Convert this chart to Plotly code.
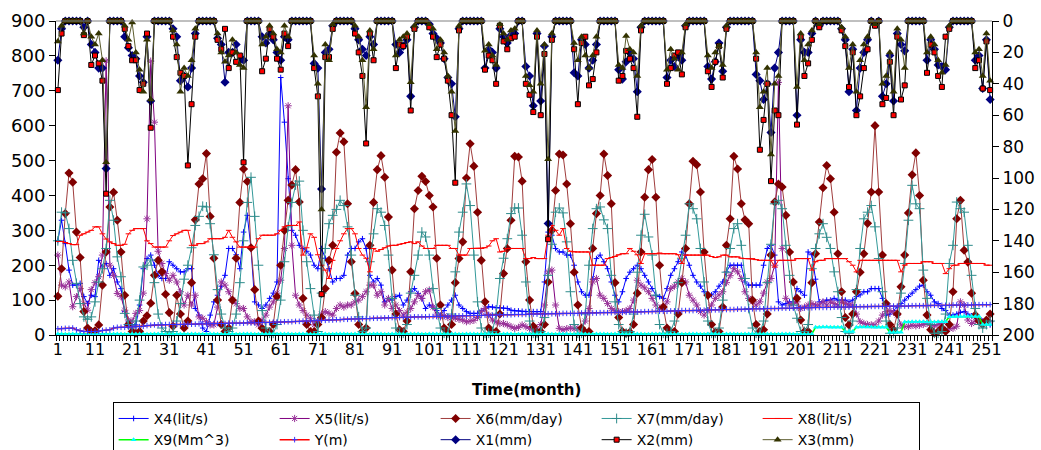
import plotly.graph_objects as go

months = list(range(1, 253))
x_tick_labels = [1, 11, 21, 31, 41, 51, 61, 71, 81, 91, 101, 111, 121, 131, 141, 151, 161, 171, 181, 191, 201, 211, 221, 231, 241, 251]

x4 = [271, 329, 262, 186, 143, 143, 148, 110, 90, 114, 110, 214,
      195, 205, 171, 190, 152, 133, 67, 38, 29, 29, 86, 190,
      219, 229, 200, 171, 162, 162, 210, 200, 190, 181, 181, 190,
      190, 76, 57, 20, 10, 57, 95, 114, 140, 171, 248, 248,
      230, 190, 295, 343, 248, 95, 86, 76, 86, 105, 120, 152,
      738, 610, 448, 300, 286, 257, 248, 240, 229, 200, 190, 248,
      220, 190, 152, 162, 162, 171, 229, 248, 248, 267, 276, 248,
      171, 152, 162, 143, 95, 105, 100, 110, 114, 86, 100, 124,
      133, 119, 105, 76, 86, 80, 70, 57, 70, 86, 100, 114,
      86, 76, 67, 62, 62, 62, 70, 76, 81, 80, 78, 78,
      77, 76, 71, 69, 69, 68, 67, 67, 67, 67, 67, 152,
      295, 286, 248, 238, 238, 229, 229, 200, 152, 124, 114, 114,
      160, 219, 229, 210, 190, 152, 114, 95, 124, 162, 180, 190,
      200, 190, 171, 152, 133, 114, 110, 105, 133, 171, 190, 210,
      238, 229, 200, 171, 152, 140, 124, 110, 115, 124, 140, 152,
      181, 200, 200, 200, 200, 152, 143, 143, 143, 143, 200, 248,
      257, 229, 95, 86, 90, 95, 95, 133, 124, 114, 238, 230,
      160, 95, 95, 100, 100, 105, 100, 100, 100, 95, 100, 110,
      115, 124, 124, 133, 133, 133, 105, 57, 60, 70, 80, 90,
      100, 110, 120, 130, 140, 143, 124, 114, 95, 90, 76, 70,
      57, 57, 60, 65, 67, 60, 55, 50, 48, 40, 38, 29]

x5 = [229, 143, 138, 152, 81, 110, 133, 90, 71, 130, 150, 167,
      229, 786, 200, 171, 119, 110, 71, 43, 40, 62, 70, 120,
      333, 785, 610, 240, 205, 176, 157, 171, 152, 124, 86, 114,
      86, 114, 52, 48, 38, 29, 29, 80, 152, 143, 124, 100,
      90, 76, 76, 52, 38, 38, 29, 43, 57, 80, 95, 120,
      157, 248, 657, 257, 114, 86, 70, 57, 48, 29, 40, 60,
      67, 62, 57, 76, 86, 80, 86, 86, 95, 100, 110, 124,
      143, 143, 114, 124, 86, 105, 76, 86, 70, 57, 65, 76,
      95, 114, 105, 124, 129, 80, 57, 52, 55, 50, 50, 48,
      45, 43, 38, 40, 42, 50, 67, 76, 57, 43, 38, 33,
      33, 29, 24, 19, 22, 29, 24, 19, 14, 20, 30, 86,
      181, 186, 86, 19, 15, 18, 20, 18, 20, 15, 40, 76,
      152, 162, 114, 105, 90, 76, 70, 67, 67, 70, 76, 100,
      157, 143, 135, 124, 105, 86, 76, 80, 95, 133, 140, 152,
      162, 152, 114, 100, 86, 67, 57, 70, 86, 105, 115, 124,
      150, 170, 190, 181, 162, 124, 105, 95, 86, 95, 120, 152,
      162, 200, 724, 248, 105, 86, 90, 95, 76, 80, 86, 90,
      86, 86, 95, 86, 95, 90, 86, 95, 90, 86, 86, 60,
      38, 33, 30, 29, 29, 40, 57, 67, 70, 65, 57, 29,
      24, 24, 28, 26, 28, 30, 33, 28, 26, 30, 33, 14,
      19, 19, 25, 95, 86, 43, 33, 40, 43, 29, 35, 38]

x6 = [111, 190, 348, 464, 438, 295, 222, 67, 20, 10, 12, 29,
      143, 238, 367, 409, 329, 238, 114, 30, 10, 5, 10, 40,
      55, 91, 171, 214, 181, 117, 64, 25, 114, 60, 20, 40,
      150, 330, 433, 448, 520, 340, 220, 100, 30, 10, 20, 100,
      220, 380, 476, 440, 250, 130, 40, 19, 8, 10, 30, 110,
      200, 300, 386, 430, 474, 381, 105, 30, 10, 10, 30, 50,
      133, 214, 257, 524, 579, 554, 376, 210, 119, 30, 10, 20,
      257, 380, 474, 514, 452, 338, 186, 60, 15, 10, 40, 181,
      362, 414, 455, 440, 400, 367, 220, 86, 20, 8, 30, 150,
      219, 267, 450, 548, 484, 352, 214, 95, 20, 8, 10, 60,
      176, 248, 329, 512, 510, 441, 210, 100, 25, 8, 10, 30,
      152, 300, 414, 519, 516, 433, 319, 180, 86, 20, 8, 10,
      248, 348, 400, 519, 457, 376, 150, 50, 10, 5, 8, 30,
      120, 238, 395, 474, 503, 395, 200, 80, 20, 8, 10, 60,
      150, 248, 376, 498, 488, 410, 238, 114, 30, 8, 10, 80,
      257, 333, 512, 476, 376, 330, 319, 100, 30, 10, 15, 60,
      229, 381, 433, 424, 343, 238, 152, 105, 43, 10, 10, 150,
      233, 324, 422, 486, 448, 352, 233, 124, 50, 29, 60, 124,
      180, 233, 320, 410, 600, 410, 229, 90, 30, 15, 60, 138,
      229, 350, 459, 522, 400, 157, 57, 15, 5, 10, 20, 10,
      30, 124, 333, 386, 243, 209, 120, 57, 40, 30, 43, 60]

x7 = [270, 352, 350, 305, 214, 148, 90, 52, 45, 52, 95, 152,
      190, 248, 386, 329, 224, 167, 62, 30, 20, 40, 100, 195,
      200, 215, 150, 60, 20, 10, 5, 10, 40, 90, 160, 200,
      250, 314, 340, 369, 367, 319, 230, 130, 60, 20, 10, 20,
      60, 150, 270, 380, 452, 340, 200, 70, 20, 5, 5, 30,
      100, 210, 310, 380, 430, 441, 300, 210, 133, 57, 10, 120,
      248, 319, 343, 360, 386, 371, 310, 229, 114, 52, 10, 20,
      210, 290, 362, 352, 314, 229, 105, 20, 5, 5, 30, 120,
      171, 229, 295, 281, 229, 133, 76, 20, 5, 5, 60, 181,
      295, 352, 433, 371, 229, 95, 20, 5, 5, 10, 60, 162,
      220, 276, 348, 364, 364, 286, 152, 40, 5, 5, 10, 50,
      171, 260, 352, 364, 350, 267, 124, 30, 5, 5, 60, 200,
      305, 362, 367, 330, 305, 171, 95, 30, 10, 5, 10, 60,
      180, 286, 346, 281, 229, 114, 30, 5, 5, 10, 40, 150,
      220, 286, 376, 362, 333, 248, 152, 40, 5, 5, 20, 100,
      180, 248, 305, 319, 257, 162, 76, 20, 5, 5, 40, 150,
      260, 376, 386, 362, 257, 171, 86, 48, 10, 10, 30, 190,
      248, 290, 319, 280, 248, 181, 124, 50, 10, 5, 40, 130,
      248, 333, 352, 371, 310, 219, 124, 40, 5, 5, 20, 120,
      205, 329, 429, 376, 362, 186, 105, 30, 5, 5, 10, 60,
      205, 257, 381, 362, 352, 257, 171, 76, 30, 20, 30, 40]

x8 = [268, 268, 265, 262, 259, 259, 286, 290, 295, 300, 310, 310,
      290, 275, 267, 262, 257, 257, 260, 290, 300, 305, 305, 305,
      270, 262, 252, 252, 252, 252, 270, 285, 290, 295, 300, 300,
      257, 257, 262, 262, 267, 276, 276, 276, 276, 280, 300, 280,
      267, 252, 252, 252, 252, 252, 276, 286, 286, 286, 286, 290,
      300, 310, 314, 314, 314, 324, 229, 250, 290, 280, 230, 200,
      186, 162, 214, 248, 270, 290, 305, 305, 290, 248, 229, 220,
      181, 248, 240, 245, 250, 255, 257, 257, 260, 262, 265, 267,
      262, 267, 255, 248, 248, 248, 257, 257, 257, 257, 248, 248,
      229, 229, 229, 248, 248, 248, 248, 250, 255, 270, 276, 238,
      240, 248, 248, 248, 248, 248, 219, 219, 222, 219, 219, 219,
      286, 314, 300, 286, 305, 248, 240, 238, 238, 238, 238, 238,
      200, 200, 200, 200, 219, 222, 225, 230, 233, 233, 248, 240,
      230, 205, 233, 233, 233, 233, 235, 233, 233, 233, 233, 230,
      205, 229, 229, 229, 229, 229, 229, 229, 225, 222, 224, 229,
      229, 224, 224, 224, 220, 219, 219, 219, 216, 214, 214, 214,
      214, 195, 214, 214, 214, 214, 214, 219, 219, 219, 219, 186,
      210, 214, 214, 219, 219, 219, 219, 219, 219, 210, 200, 181,
      214, 214, 214, 214, 214, 214, 214, 214, 214, 214, 214, 181,
      200, 205, 205, 205, 205, 210, 210, 210, 205, 205, 205, 176,
      190, 200, 200, 205, 205, 205, 205, 205, 205, 205, 200, 200]

x9 = [3, 3, 2, 2, 3, 3, 3, 2, 2, 2, 3, 3,
      3, 2, 2, 3, 3, 3, 2, 2, 3, 3, 3, 3,
      2, 2, 3, 3, 3, 2, 2, 2, 3, 3, 3, 2,
      3, 3, 2, 2, 3, 3, 3, 2, 2, 3, 3, 3,
      2, 2, 3, 3, 3, 2, 2, 3, 3, 3, 2, 2,
      3, 3, 3, 2, 2, 3, 3, 3, 2, 2, 3, 3,
      3, 2, 2, 3, 3, 3, 2, 2, 3, 3, 3, 2,
      2, 3, 3, 3, 2, 2, 3, 3, 3, 2, 2, 3,
      3, 3, 2, 2, 3, 3, 3, 2, 2, 3, 3, 3,
      2, 2, 3, 3, 3, 2, 2, 3, 3, 3, 2, 2,
      3, 3, 3, 2, 2, 3, 3, 3, 2, 2, 3, 3,
      3, 2, 2, 3, 3, 3, 2, 2, 3, 3, 3, 2,
      2, 3, 3, 3, 2, 2, 3, 3, 3, 2, 2, 3,
      3, 3, 2, 2, 3, 3, 3, 2, 2, 3, 3, 3,
      2, 2, 3, 3, 3, 2, 2, 3, 3, 3, 2, 2,
      3, 3, 3, 2, 2, 3, 3, 3, 2, 2, 3, 3,
      3, 2, 2, 3, 3, 3, 2, 2, 3, 3, 3, 3,
      22, 22, 23, 23, 22, 22, 22, 22, 10, 10, 10, 22,
      23, 23, 23, 23, 22, 22, 22, 22, 8, 8, 8, 8,
      37, 37, 38, 38, 38, 38, 37, 37, 37, 38, 38, 38,
      52, 52, 53, 53, 54, 54, 54, 53, 53, 30, 30, 30]

y_m = [18, 18, 19, 19, 20, 15, 12, 10, 10, 10, 10, 11,
       13, 14, 15, 20, 22, 22, 22, 23, 23, 24, 24, 25,
       27, 28, 29, 29, 29, 30, 30, 30, 30, 30, 31, 31,
       31, 31, 32, 32, 32, 32, 33, 33, 33, 33, 34, 34,
       34, 34, 34, 35, 35, 35, 35, 36, 36, 36, 37, 37,
       37, 38, 38, 38, 39, 39, 40, 40, 40, 41, 41, 42,
       42, 43, 43, 44, 44, 45, 45, 46, 46, 46, 47, 47,
       47, 48, 48, 48, 49, 49, 50, 50, 50, 51, 51, 51,
       52, 52, 52, 52, 53, 53, 53, 53, 54, 54, 54, 55,
       55, 55, 55, 56, 56, 56, 56, 57, 57, 57, 57, 58,
       58, 58, 58, 59, 59, 59, 59, 60, 60, 60, 60, 60,
       61, 61, 61, 61, 62, 62, 62, 62, 62, 63, 63, 63,
       63, 63, 64, 64, 64, 64, 65, 65, 65, 65, 66, 66,
       66, 66, 67, 67, 67, 68, 68, 68, 68, 69, 69, 69,
       70, 70, 70, 70, 71, 71, 71, 72, 72, 72, 72, 73,
       73, 73, 73, 74, 74, 74, 74, 75, 75, 75, 75, 76,
       76, 76, 76, 77, 77, 77, 77, 78, 78, 78, 78, 78,
       79, 79, 79, 79, 79, 80, 80, 80, 80, 80, 81, 81,
       81, 81, 81, 82, 82, 82, 82, 82, 83, 83, 83, 83,
       83, 83, 84, 84, 84, 84, 84, 85, 85, 85, 85, 85,
       85, 86, 86, 86, 86, 86, 86, 87, 87, 87, 87, 87]

x1 = [25, 5, 0, 0, 0, 0, 0, 4, 0, 15, 20, 30,
      30, 94, 0, 0, 0, 0, 10, 17, 22, 24, 35, 39,
      10, 51, 0, 0, 0, 0, 0, 5, 10, 38, 35, 42,
      30, 8, 0, 0, 0, 0, 0, 11, 15, 39, 20, 20,
      15, 25, 25, 0, 0, 0, 0, 10, 14, 8, 12, 20,
      25, 10, 12, 0, 0, 0, 0, 0, 0, 27, 30, 107,
      20, 18, 3, 0, 0, 0, 0, 0, 5, 12, 18, 22,
      10, 15, 0, 0, 0, 0, 0, 15, 20, 16, 12, 48,
      4, 0, 0, 0, 2, 8, 11, 14, 24, 36, 40, 61,
      5, 0, 0, 0, 0, 0, 0, 30, 18, 20, 30, 5,
      10, 14, 9, 8, 0, 0, 29, 35, 54, 8, 51, 16,
      129, 10, 0, 0, 0, 0, 0, 33, 35, 12, 15, 30,
      25, 15, 0, 0, 0, 0, 0, 31, 37, 26, 20, 24,
      45, 4, 0, 0, 0, 0, 0, 0, 36, 25, 29, 22,
      25, 3, 0, 0, 0, 0, 0, 29, 37, 26, 14, 32,
      4, 0, 0, 0, 0, 0, 0, 0, 34, 38, 50, 40,
      71, 30, 20, 0, 0, 0, 0, 60, 12, 20, 20, 8,
      0, 3, 0, 0, 0, 0, 0, 5, 12, 45, 18, 57,
      30, 20, 12, 0, 2, 0, 48, 40, 22, 51, 8, 15,
      19, 0, 0, 0, 0, 0, 25, 12, 18, 28, 29, 31,
      4, 0, 0, 0, 0, 0, 0, 25, 22, 43, 12, 50]

x2 = [44, 8, 0, 0, 0, 0, 0, 9, 0, 28, 22, 27,
      38, 110, 0, 0, 0, 0, 5, 16, 25, 25, 44, 40,
      8, 68, 0, 0, 0, 0, 0, 10, 23, 33, 35, 92,
      53, 10, 0, 0, 0, 0, 0, 12, 18, 5, 30, 20,
      26, 22, 90, 0, 0, 0, 0, 32, 24, 5, 10, 24,
      31, 8, 16, 0, 0, 0, 0, 0, 0, 30, 48, 174,
      23, 23, 5, 0, 0, 0, 0, 0, 8, 20, 35, 78,
      8, 25, 0, 0, 0, 0, 0, 30, 15, 16, 10, 57,
      5, 0, 0, 0, 4, 10, 23, 15, 24, 38, 60, 103,
      6, 0, 0, 0, 0, 0, 0, 31, 22, 25, 40, 3,
      13, 18, 11, 10, 0, 0, 40, 47, 58, 10, 60, 21,
      139, 12, 0, 0, 0, 0, 0, 18, 53, 14, 10, 41,
      37, 20, 0, 0, 0, 0, 0, 38, 35, 19, 24, 30,
      61, 6, 0, 0, 0, 0, 0, 0, 40, 30, 22, 20,
      34, 4, 0, 0, 0, 0, 0, 32, 42, 26, 16, 36,
      5, 0, 0, 0, 0, 0, 0, 0, 24, 82, 63, 40,
      102, 57, 60, 0, 0, 0, 0, 66, 10, 35, 27, 12,
      0, 4, 0, 0, 0, 0, 0, 6, 16, 42, 20, 60,
      48, 30, 18, 0, 3, 0, 53, 49, 26, 60, 10, 50,
      41, 0, 0, 0, 0, 0, 33, 15, 20, 35, 42, 10,
      5, 0, 0, 0, 0, 0, 0, 30, 25, 43, 13, 44]

x3 = [13, 3, 0, 0, 0, 0, 0, 8, 0, 10, 15, 8,
      25, 90, 0, 0, 0, 0, 3, 12, 1, 20, 31, 45,
      12, 50, 0, 0, 0, 0, 0, 6, 15, 45, 30, 35,
      25, 5, 0, 0, 0, 0, 0, 8, 20, 26, 22, 12,
      20, 28, 30, 0, 0, 0, 0, 15, 10, 3, 8, 18,
      20, 3, 10, 0, 0, 0, 0, 0, 0, 22, 40, 120,
      15, 25, 2, 0, 0, 0, 0, 0, 3, 10, 25, 55,
      6, 18, 0, 0, 0, 0, 0, 22, 12, 10, 8, 39,
      3, 0, 0, 0, 2, 5, 18, 12, 20, 35, 45, 70,
      3, 0, 0, 0, 0, 0, 0, 19, 15, 22, 28, 2,
      8, 12, 6, 5, 0, 0, 35, 41, 45, 6, 40, 15,
      88, 8, 0, 0, 0, 0, 0, 14, 25, 10, 22, 30,
      22, 10, 0, 0, 0, 0, 0, 28, 30, 9.5, 18, 20,
      35, 3, 0, 0, 0, 0, 0, 0, 31, 18, 24, 31,
      20, 2, 0, 0, 0, 0, 0, 22, 30, 20, 16, 28,
      3, 0, 0, 0, 0, 0, 0, 0, 20, 55, 45, 30,
      85, 40, 35, 0, 0, 0, 0, 42, 8, 25, 15, 6,
      0, 2, 0, 0, 0, 0, 0, 4, 10, 30, 15, 45,
      25, 15, 10, 0, 2, 0, 40, 35, 20, 45, 5, 12,
      30, 0, 0, 0, 0, 0, 20, 10, 15, 25, 33, 28,
      3, 0, 0, 0, 0, 0, 0, 20, 18, 35, 8, 38]

for nm, arr in [("x4", x4), ("x5", x5), ("x6", x6), ("x7", x7), ("x8", x8), ("x9", x9),
                ("y_m", y_m), ("x1", x1), ("x2", x2), ("x3", x3)]:
    assert len(arr) == 252, (nm, len(arr))

FONT = "DejaVu Sans"

series = [
    # name, data, axis, line colour, line width, symbol, size, fill, edge colour, edge width
    ("X4(lit/s)", x4, "y", "#0000FF", 1, "cross-thin", 4, "#0000FF", "#0000FF", 1),
    ("X5(lit/s)", x5, "y", "#800080", 1, "asterisk", 6, "#993399", "#993399", 1),
    ("X6(mm/day)", x6, "y", "#A03C3C", 1, "diamond", 7, "#800000", "#800000", 0),
    ("X7(mm/day)", x7, "y", "#339999", 1, "cross-thin", 7, "#2E8B8B", "#2E8B8B", 1),
    ("X8(lit/s)", x8, "y", "#FF0000", 1, "line-ew", 4, "#FF0000", "#FF0000", 1),
    ("X9(Mm^3)", x9, "y", "#00FF00", 1.5, "triangle-up", 5, "#00FFFF", "#00FFFF", 0),
    ("Y(m)", y_m, "y", "#FF0000", 1.5, "cross-thin", 4, "#3333FF", "#3333FF", 1),
    ("X1(mm)", x1, "y2", "#000080", 1, "diamond", 7, "#000080", "#000080", 0),
    ("X2(mm)", x2, "y2", "#000000", 1, "square", 5, "#FF0000", "#000000", 1),
    ("X3(mm)", x3, "y2", "#5C5C2E", 1, "triangle-up", 7, "#333300", "#333300", 0),
]

fig = go.Figure()
for name, data, ax, lc, lw, sym, ms, mc, mlc, mlw in series:
    fig.add_trace(go.Scatter(
        x=months, y=data, name=name, yaxis=ax, mode="lines+markers",
        line=dict(color=lc, width=lw),
        marker=dict(symbol=sym, size=ms, color=mc, line=dict(color=mlc, width=mlw)),
        cliponaxis=False,
    ))

fig.update_layout(
    width=1041, height=450,
    margin=dict(l=56, r=49, t=21, b=115, autoexpand=False),
    paper_bgcolor="white", plot_bgcolor="white",
    font=dict(family=FONT, color="#000000"),
    showlegend=True,
    legend=dict(
        orientation="h", x=0.0605, xanchor="left", y=-0.213, yanchor="top",
        entrywidth=116, entrywidthmode="pixels",
        bordercolor="#000000", borderwidth=1, bgcolor="white",
        font=dict(family=FONT, size=14), tracegroupgap=0, itemwidth=30,
    ),
    xaxis=dict(
        range=[0.5, 252.5], tickmode="array", tickvals=x_tick_labels,
        ticktext=[str(v) for v in x_tick_labels], tickangle=0,
        ticks="", showline=True, linecolor="#000000", linewidth=1,
        showgrid=False, zeroline=False, automargin=False,
        tickfont=dict(family=FONT, size=16),
        minor=dict(ticks="outside", ticklen=5, tick0=0.5, dtick=1, tickcolor="#000000", showgrid=False),
    ),
    yaxis=dict(
        range=[0, 900], dtick=100, tick0=0, ticks="outside", ticklen=6, tickcolor="#000000",
        showline=True, linecolor="#000000", linewidth=1, showgrid=False, zeroline=False,
        automargin=False, tickfont=dict(family=FONT, size=18),
    ),
    yaxis2=dict(
        overlaying="y", side="right", range=[200, 0], dtick=20, tick0=0,
        ticks="outside", ticklen=6, tickcolor="#000000",
        showline=True, linecolor="#000000", linewidth=1, showgrid=False, zeroline=False,
        automargin=False, tickfont=dict(family=FONT, size=17),
    ),
    shapes=[dict(type="line", xref="paper", yref="paper", x0=0, x1=1, y0=1, y1=1,
                 line=dict(color="#808080", width=1))],
    annotations=[dict(text="<b>Time(month)</b>", xref="paper", yref="paper",
                      x=0.503, y=-0.175, xanchor="center", yanchor="middle",
                      showarrow=False, font=dict(family=FONT, size=15, color="#000000"))],
)

fig.write_html("out.html")
